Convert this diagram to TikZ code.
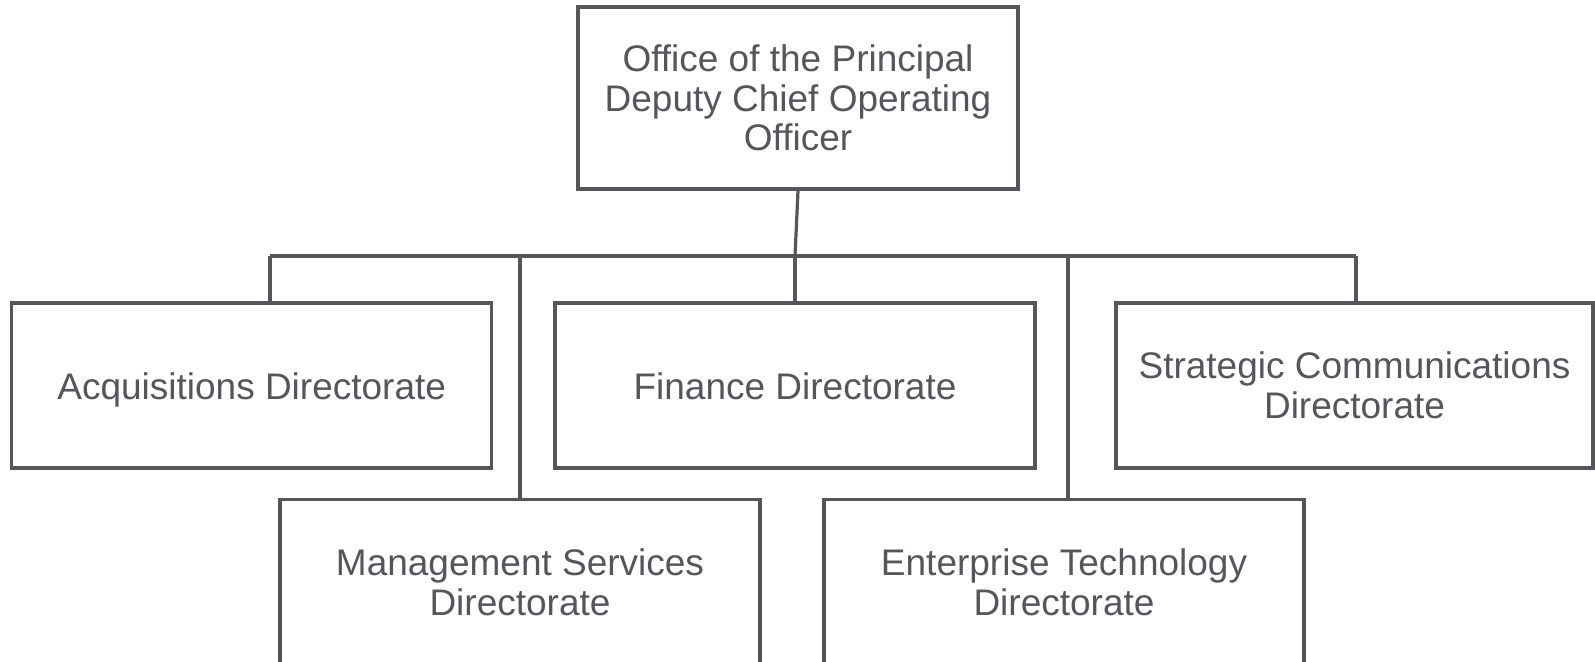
\documentclass[tikz,border=0pt]{standalone}
\usepackage{fontspec}
\setmainfont{Liberation Sans}
\definecolor{orgline}{RGB}{84,86,91}

\begin{document}
\begin{tikzpicture}[x=0.5pt,y=-0.5pt,
  unit/.style={draw=orgline,line width=1.7pt,text=orgline,align=center,
    minimum width=240pt,minimum height=82.5pt,inner sep=0pt,
    font=\fontsize{18.5}{19.8}\selectfont},
  oneline/.style={text height=13.5pt,text depth=0pt},
  link/.style={draw=orgline,line width=1.6pt}]
  \clip (0,0) rectangle (1595,661);
  \node[unit,minimum width=220pt,minimum height=91pt] (office) at (798,98)
    {Office of the Principal\\Deputy Chief Operating\\Officer};
  \node[unit,oneline] (acq) at (251.7,385.5) {Acquisitions Directorate};
  \node[unit,oneline] (fin) at (795,385.5)   {Finance Directorate};
  \node[unit,minimum width=238.5pt] (strat) at (1354.5,385.5)
    {Strategic Communications\\Directorate};
  \node[unit] (mgmt)  at (520,582)     {Management Services\\Directorate};
  \node[unit] (ent)   at (1064,582)    {Enterprise Technology\\Directorate};
  % bus line
  \coordinate (busL) at (270,256);
  \coordinate (busR) at (1356,256);
  \path[link]
    (busL) edge (busR)
    (office.south) edge (fin.north |- busL)
    (fin.north |- busL) edge (fin.north)
    (busL) edge (busL |- acq.north)
    (mgmt.north |- busL) edge (mgmt.north)
    ([xshift=2pt]ent.north |- busL) edge ([xshift=2pt]ent.north)
    (busR) edge (busR |- strat.north);
\end{tikzpicture}
\end{document}
